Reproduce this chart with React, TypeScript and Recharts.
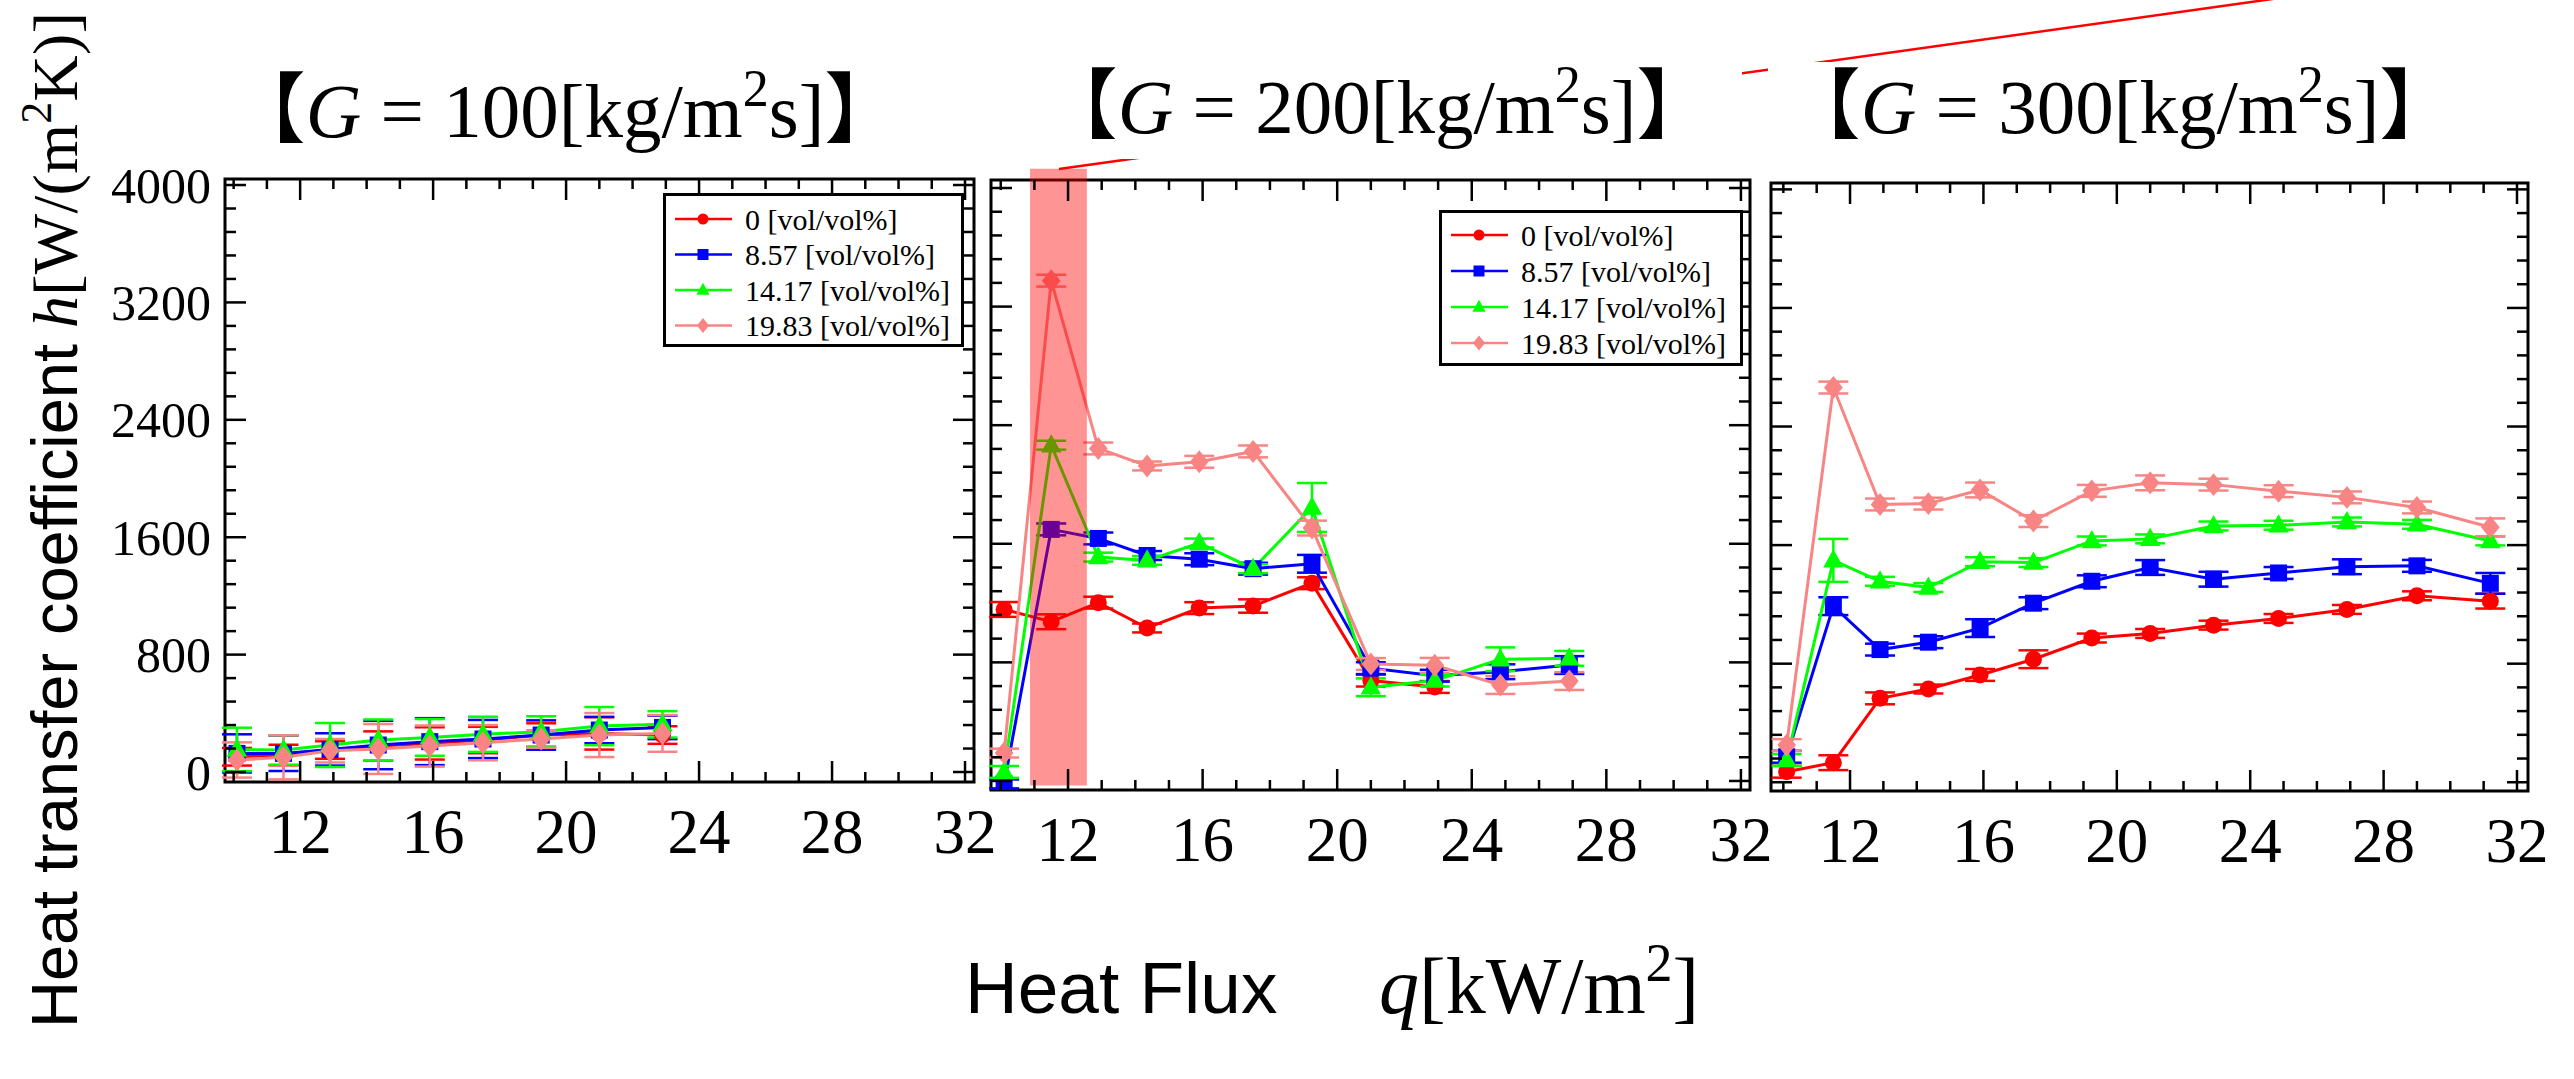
import React from 'react'
import { LineChart, Line, XAxis, YAxis, ErrorBar, ReferenceArea, Legend } from 'recharts'

// heat flux q [kW/m2], shared by the three panels
const qFlux = [10.1, 11.5, 12.9, 14.35, 15.9, 17.5, 19.25, 21.0, 22.9, 24.85, 26.9, 29.0, 31.2]

const seriesNames = ['0 [vol/vol%]', '8.57 [vol/vol%]', '14.17 [vol/vol%]', '19.83 [vol/vol%]']
const seriesColors = ['#ff0000', '#0000ff', '#00ff00', '#f88484']
const seriesShapes = ['circle', 'square', 'triangle', 'diamond']

// G = 100
const g100Red = [104, 116, 150, 177, 195, 218, 252, 263, 252]
const g100Blue = [127, 127, 154, 184, 207, 225, 252, 286, 304]
const g100Green = [154, 150, 184, 218, 236, 257, 275, 313, 325]
const g100Pink = [82, 100, 145, 157, 177, 200, 225, 252, 263]
const g100RedErr = [60, 70, 60, 100, 110, 90, 80, 110, 60]
const g100BlueErr = [130, 120, 110, 165, 160, 130, 100, 90, 80]
const g100GreenErr = [148, 100, 150, 140, 125, 120, 105, 130, 90]
const g100PinkErr = [120, 150, 80, 170, 140, 120, 60, 150, 125]

// G = 200
const g200Red = [1157, 1074, 1203, 1032, 1166, 1180, 1334, 677, 634]
const g200Blue = [-20, 1697, 1636, 1521, 1496, 1432, 1465, 761, 710, 737, 782]
const g200Green = [61, 2265, 1510, 1488, 1605, 1432, 1845, 632, 677, 821, 827]
const g200Pink = [188, 3375, 2243, 2125, 2153, 2223, 1706, 789, 780, 647, 674]
const g200RedErr = [50, 50, 40, 30, 40, 45, 40, 40, 40]
const g200BlueErr = [30, 40, 40, 30, 40, 40, 60, 40, 40, 50, 60]
const g200GreenErr = [40, 30, 30, 30, 30, 30, 165, 60, 40, 80, 50]
const g200PinkErr = [30, 40, 40, 30, 40, 40, 50, 40, 50, 60, 60]

// G = 300
const g300Red = [71, 132, 566, 629, 724, 830, 973, 1004, 1060, 1105, 1166, 1258, 1222]
const g300Blue = [172, 1188, 895, 945, 1040, 1208, 1356, 1449, 1370, 1412, 1454, 1460, 1342]
const g300Green = [150, 1497, 1356, 1314, 1488, 1482, 1628, 1642, 1729, 1734, 1756, 1740, 1628]
const g300Pink = [251, 2663, 1874, 1880, 1972, 1762, 1966, 2020, 2008, 1964, 1922, 1854, 1720]
const g300RedErr = [40, 50, 40, 30, 40, 60, 30, 30, 30, 30, 30, 30, 50]
const g300BlueErr = [40, 60, 40, 40, 60, 40, 40, 50, 50, 40, 50, 40, 70]
const g300GreenErr = [40, 145, 30, 30, 30, 30, 30, 30, 30, 30, 30, 30, 30]
const g300PinkErr = [40, 40, 40, 40, 50, 40, 40, 50, 40, 40, 40, 40, 60]

const xTicks = [10, 11, 12, 13, 14, 15, 16, 17, 18, 19, 20, 21, 22, 23, 24, 25, 26, 27, 28, 29, 30, 31, 32]
const xTickLabels = [12, 16, 20, 24, 28, 32]
const yTickLabels = [0, 800, 1600, 2400, 3200, 4000]
const yTicks = [0, 160, 320, 480, 640, 800, 960, 1120, 1280, 1440, 1600, 1760, 1920, 2080, 2240, 2400,
  2560, 2720, 2880, 3040, 3200, 3360, 3520, 3680, 3840, 4000]

// highlighted region in the G=200 panel
const band = { q0: 10.87, q1: 12.56, h0: -31, h1: 4130 }

const buildRows = (n: number, vals: number[][], errs: number[][]) =>
  qFlux.slice(0, n).map((q, i) => {
    const row: any = { q }
    vals.forEach((v, s) => {
      row[`s${s}`] = v[i]
      row[`e${s}`] = v[i] == null ? undefined : errs[s][i]
    })
    return row
  })

const rows100 = buildRows(9, [g100Red, g100Blue, g100Green, g100Pink], [g100RedErr, g100BlueErr, g100GreenErr, g100PinkErr])
const rows200 = buildRows(11, [g200Red, g200Blue, g200Green, g200Pink], [g200RedErr, g200BlueErr, g200GreenErr, g200PinkErr])
const rows300 = buildRows(13, [g300Red, g300Blue, g300Green, g300Pink], [g300RedErr, g300BlueErr, g300GreenErr, g300PinkErr])

const SERIF = "'Liberation Serif', 'Times New Roman', serif"
const SANS = "'Liberation Sans', Arial, sans-serif"
// space around each plot box; the axes take 1px each (recharts skips 0-size axes)
const ML = 130
const MT = 20
const MR = 40
const MB = 100

const Marker = ({ shape, cx, cy, color, s }: any) => {
  if (shape === 'circle') return <circle cx={cx} cy={cy} r={s} fill={color} />
  if (shape === 'square') return <rect x={cx - s} y={cy - s} width={2 * s} height={2 * s} fill={color} />
  if (shape === 'triangle') {
    return <polygon points={`${cx},${cy - s * 1.3} ${cx - s * 1.2},${cy + s * 0.85} ${cx + s * 1.2},${cy + s * 0.85}`} fill={color} />
  }
  return <polygon points={`${cx},${cy - s * 1.35} ${cx + s * 1.1},${cy} ${cx},${cy + s * 1.35} ${cx - s * 1.1},${cy}`} fill={color} />
}

const makeDot = (i: number) => (props: any) => {
  const { cx, cy, index } = props
  if (!Number.isFinite(cx) || !Number.isFinite(cy)) return <g key={`d${i}-${index}`} />
  return <Marker key={`d${i}-${index}`} shape={seriesShapes[i]} cx={cx} cy={cy} color={seriesColors[i]} s={8.5} />
}

const makeXTick = (plotH: number) => (props: any) => {
  const { x, y, payload } = props
  const v = payload.value
  const major = xTickLabels.includes(v)
  const len = major ? 21 : 10
  return (
    <g key={`xt-${v}`}>
      <line x1={x} x2={x} y1={y} y2={y - len} stroke='#000' strokeWidth={2.5} />
      <line x1={x} x2={x} y1={y - plotH} y2={y - plotH + len} stroke='#000' strokeWidth={2.5} />
      {major && (
        <text x={x} y={y + 71} textAnchor='middle' fontSize={63} fontFamily={SERIF} fill='#000'>{v}</text>
      )}
    </g>
  )
}

const makeYTick = (plotW: number, labels: boolean) => (props: any) => {
  const { x, y, payload } = props
  const v = payload.value
  const major = yTickLabels.includes(v)
  const len = major ? 21 : 11
  return (
    <g key={`yt-${v}`}>
      <line x1={x} x2={x + len} y1={y} y2={y} stroke='#000' strokeWidth={2.5} />
      <line x1={x + plotW} x2={x + plotW - len} y1={y} y2={y} stroke='#000' strokeWidth={2.5} />
      {labels && major && (
        <text x={x - 14} y={y} dy='0.35em' textAnchor='end' fontSize={50} fontFamily={SERIF} fill='#000'>{v}</text>
      )}
    </g>
  )
}

const makeLegend = (lg: any) => (props: any) => {
  const { payload } = props
  return (
    <svg width={lg.w} height={lg.h} style={{ display: 'block' }}>
      <rect x={1.5} y={1.5} width={lg.w - 3} height={lg.h - 3} fill='#fff' stroke='#000' strokeWidth={3} />
      {(payload || []).map((entry: any) => {
        const s = Number(String(entry.dataKey).slice(1))
        const cy = lg.first + s * lg.gap
        return (
          <g key={entry.value}>
            <line x1={12} x2={69} y1={cy} y2={cy} stroke={seriesColors[s]} strokeWidth={2.5} />
            <Marker shape={seriesShapes[s]} cx={40} cy={cy} color={seriesColors[s]} s={5.5} />
            <text x={82} y={cy} dy='0.35em' fontSize={30} fontFamily={SERIF} fill='#000'>{entry.value}</text>
          </g>
        )
      })}
    </svg>
  )
}

const panels = [
  {
    id: 'g100', rows: rows100, plot: { left: 225, top: 179, width: 749, height: 603 },
    xDomain: [9.74, 32.27], yDomain: [-68, 4041], yLabels: true,
    legend: { dx: 438, dy: 14, w: 301, h: 154, first: 26, gap: 35.5 }, band: false
  },
  {
    id: 'g200', rows: rows200, plot: { left: 991, top: 180, width: 759, height: 610 },
    xDomain: [9.71, 32.27], yDomain: [-61, 4054], yLabels: false,
    legend: { dx: 448, dy: 30, w: 304, h: 156, first: 25, gap: 36 }, band: true
  },
  {
    id: 'g300', rows: rows300, plot: { left: 1771, top: 183, width: 757, height: 608 },
    xDomain: [9.63, 32.33], yDomain: [-59, 4043], yLabels: false,
    legend: null, band: false
  }
]

const titles = [
  { g: 100, x: 565, y: 137 },
  { g: 200, x: 1377, y: 133 },
  { g: 300, x: 2120, y: 133 }
]

function Panel ({ p }: { p: any }) {
  const { plot } = p
  return (
    <div style={{ position: 'absolute', left: plot.left - ML, top: plot.top - MT }}>
      <LineChart
        width={plot.width + ML + MR}
        height={plot.height + MT + MB}
        data={p.rows}
        margin={{ top: MT, right: MR, bottom: MB - 1, left: ML - 1 }}
      >
        <XAxis
          type='number' dataKey='q' domain={p.xDomain} allowDataOverflow ticks={xTicks} interval={0}
          height={1} tickSize={0} tickMargin={0} tickLine={false} axisLine={false}
          tick={makeXTick(plot.height)}
        />
        <YAxis
          type='number' domain={p.yDomain} allowDataOverflow ticks={yTicks} interval={0}
          width={1} tickSize={0} tickMargin={0} tickLine={false} axisLine={false}
          tick={makeYTick(plot.width, p.yLabels)}
        />
        <ReferenceArea
          x1={p.xDomain[0]} x2={p.xDomain[1]} y1={p.yDomain[0]} y2={p.yDomain[1]}
          fill='none' stroke='#000' strokeWidth={3} ifOverflow='visible'
        />
        {seriesNames.map((name, i) => (
          <Line
            key={name} dataKey={`s${i}`} name={name} type='linear'
            stroke={seriesColors[i]} strokeWidth={3}
            dot={makeDot(i)} activeDot={false} isAnimationActive={false}
          >
            <ErrorBar dataKey={`e${i}`} width={15} strokeWidth={2.5} stroke={seriesColors[i]} direction='y' />
          </Line>
        ))}
        {p.band && (
          <ReferenceArea
            x1={band.q0} x2={band.q1} y1={band.h0} y2={band.h1}
            fill='#ff0000' fillOpacity={0.42} stroke='none' ifOverflow='visible' zIndex={1500}
          />
        )}
        {p.legend && (
          <Legend
            layout='vertical' align='center' verticalAlign='middle' itemSorter='dataKey'
            content={makeLegend(p.legend)}
            wrapperStyle={{ position: 'absolute', left: ML + p.legend.dx, top: MT + p.legend.dy, width: p.legend.w, height: p.legend.h }}
          />
        )}
      </LineChart>
    </div>
  )
}

export default function App () {
  return (
    <div style={{ position: 'absolute', left: 0, top: 0, width: 2574, height: 1079, background: '#fff', overflow: 'hidden' }}>
      {panels.map(p => <Panel key={p.id} p={p} />)}
      <svg width={2574} height={1079} style={{ position: 'absolute', left: 0, top: 0, pointerEvents: 'none' }}>
        <line x1={1059} y1={169} x2={2301} y2={-5} stroke='#ff0000' strokeWidth={2.5} />
        <rect x={1030} y={25} width={712} height={134} fill='#fff' />
        <rect x={1768} y={62} width={720} height={100} fill='#fff' />
        {titles.map(t => (
          <text key={t.g} x={t.x} y={t.y} textAnchor='middle' fontSize={77} fontFamily={`${SERIF}, 'Noto Sans CJK JP'`} fill='#000'>
            【<tspan fontStyle='italic'>G</tspan> = {t.g}[kg/m<tspan dy={-31} fontSize={52}>2</tspan><tspan dy={31}>s]】</tspan>
          </text>
        ))}
        <g transform='translate(77,1028) rotate(-90)'>
          <text x={0} y={0} fontSize={65} fontFamily={SANS} fill='#000' textLength={684} lengthAdjust='spacing'>
            Heat transfer coefficient
          </text>
          <text x={700} y={0} fontSize={64} fontFamily={SERIF} fill='#000' textLength={316} lengthAdjust='spacing'>
            <tspan fontStyle='italic'>h</tspan>[W/(m<tspan fontSize={44} dy={-26}>2</tspan><tspan dy={26}>K)]</tspan>
          </text>
        </g>
        <text x={965} y={1013} fontSize={73} fontFamily={SANS} fill='#000'>Heat Flux</text>
        <text x={1379} y={1013} fontSize={80} fontFamily={SERIF} fill='#000'>
          <tspan fontStyle='italic'>q</tspan>[kW/m<tspan dy={-32} fontSize={54}>2</tspan><tspan dy={32}>]</tspan>
        </text>
      </svg>
    </div>
  )
}
